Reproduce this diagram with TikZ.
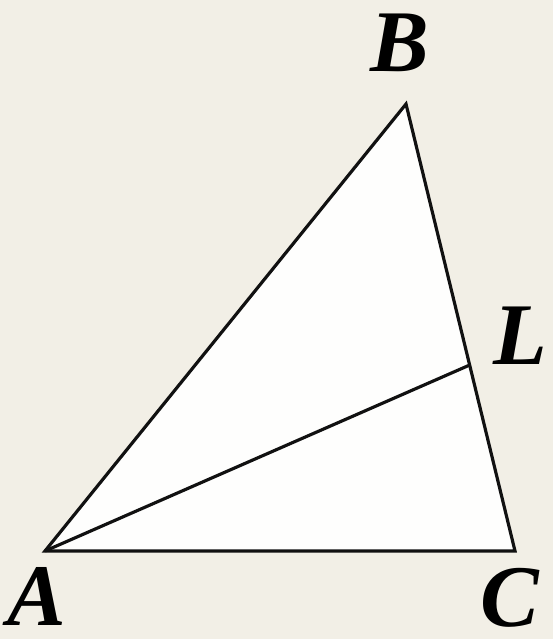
\documentclass[tikz,border=0pt]{standalone}
\usepackage{xcolor}
\usepackage{fontspec}
\setmainfont{Liberation Serif}
\usetikzlibrary{positioning, calc}
\definecolor{paperbg}{HTML}{F2EFE6}
\definecolor{trifill}{HTML}{FEFEFD}
\definecolor{edgeblack}{HTML}{111111}

\begin{document}
\begin{tikzpicture}[
    x=0.01cm, y=-0.01cm,
    edge/.style={line width=0.9pt, draw=edgeblack, line join=miter},
    vlabel/.style={font=\fontsize{25}{30}\selectfont\bfseries\itshape, text=black, inner sep=0pt},
]

% ─── Background ───
\fill[paperbg] (0,0) rectangle (553,639);
\useasboundingbox (0,0) rectangle (553,639);

% ─── Vertices ───
\coordinate (A) at (45,551);
\coordinate (B) at (406,104);
\coordinate (C) at (515,551);
\coordinate (L) at ($(B)!0.584!(C)$);

% ─── Triangle ───
\fill[trifill] (A) -- (B) -- (C) -- cycle;
\draw[edge] (A) -- (B) -- (C) -- cycle;
\draw[edge] (A) -- (L);

% ─── Labels ───
\node[vlabel] (labA) at (37,596) {A};
\node[vlabel] (labB) at (400,43) {B};
\node[vlabel] (labC) at (510,598) {C};
\node[vlabel] (labL) at (520,336) {L};

\end{tikzpicture}
\end{document}
